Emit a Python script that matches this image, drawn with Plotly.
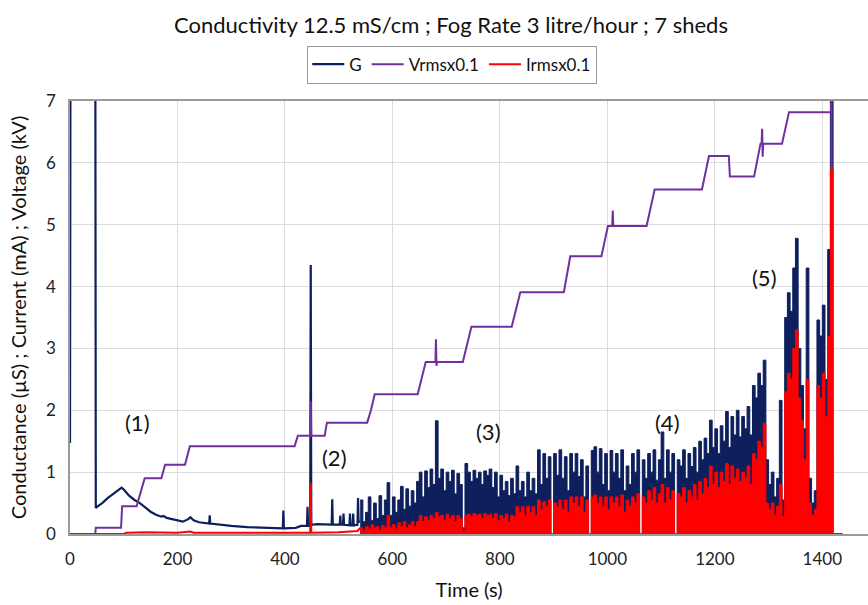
import numpy as np
import plotly.graph_objects as go

# ---------------- data ----------------
# Conductance G, early smooth part (time s, value uS)
g_early_t = [0, 1, 47, 48, 52, 60, 70, 80, 90, 96, 100, 110, 120, 130, 140, 150, 160, 170, 174, 180,
             190, 200, 210, 220, 224, 230, 240, 259, 260, 261, 280, 300, 330, 360, 396, 397, 398, 420,
             430, 441, 442, 443, 447, 448, 449, 460, 487, 488, 489, 502, 503, 504, 508, 509, 510, 520,
             521, 522, 526, 527, 528, 535, 536, 537, 540]
g_early_v = [1.47, 9.0, 9.0, 0.42, 0.45, 0.5, 0.58, 0.65, 0.72, 0.75, 0.72, 0.62, 0.55, 0.5, 0.43, 0.36,
             0.31, 0.28, 0.29, 0.26, 0.24, 0.22, 0.2, 0.24, 0.27, 0.22, 0.19, 0.17, 0.3, 0.17, 0.15, 0.13,
             0.11, 0.1, 0.09, 0.38, 0.09, 0.1, 0.13, 0.13, 0.44, 0.13, 0.13, 4.35, 0.15, 0.16, 0.15, 0.56,
             0.15, 0.15, 0.3, 0.15, 0.15, 0.33, 0.15, 0.14, 0.33, 0.14, 0.14, 0.33, 0.14, 0.15, 0.58, 0.2,
             0.2]

# Dense noisy part, sampled every 5 s from 540 s to 1420 s
dense_t = list(range(540, 1421, 5))
g_dense = [
    0.55, 0.2, 0.35, 0.6, 0.22, 0.5, 0.25, 0.62, 0.3, 0.55,
    0.83, 0.3, 0.6, 0.35, 0.55, 0.77, 0.4, 0.73, 0.45, 0.7,
    0.5, 0.85, 1.0, 0.6, 1.02, 0.75, 1.05, 0.8, 1.83, 0.9,
    1.05, 0.7, 1.0, 0.85, 1.03, 0.65, 0.98, 0.8, 0.1, 1.14,
    1.0, 0.85, 1.03, 0.9, 1.0, 0.8, 1.02, 0.95, 1.05, 0.75,
    1.0, 0.6, 0.95, 0.7, 0.85, 0.62, 0.9, 0.65, 1.1, 0.7,
    0.85, 0.6, 1.0, 0.7, 0.9, 0.65, 1.36, 0.8, 1.3, 0.9,
    1.25, 0.0, 1.3, 0.95, 1.36, 0.9, 1.25, 0.7, 1.3, 1.0,
    1.3, 0.93, 1.2, 0.6, 1.1, 0.0, 1.35, 1.41, 1.0, 1.38,
    0.8, 1.3, 0.7, 1.35, 1.0, 1.3, 0.9, 1.36, 0.7, 1.1,
    0.8, 1.3, 1.0, 1.36, 0.0, 1.2, 0.9, 1.3, 1.0, 1.36,
    0.87, 1.2, 1.65, 0.9, 1.36, 1.0, 1.3, 0.0, 1.2, 1.1,
    1.36, 0.9, 1.3, 1.09, 1.4, 1.0, 1.5, 1.2, 1.55, 1.3,
    1.84, 1.4, 1.7, 1.3, 1.75, 1.5, 1.98, 1.4, 1.9, 1.6,
    2.0, 1.57, 1.9, 1.7, 2.06, 1.6, 2.4, 2.2, 2.6, 2.4,
    2.81, 1.2, 0.8, 1.0, 0.6, 0.9, 2.16, 0.55, 3.5, 3.9,
    3.6, 4.3, 4.78, 3.0, 2.4, 1.7, 4.3, 0.9, 0.5, 0.7,
    3.46, 3.2, 3.7, 2.5, 4.6, 7.5, 0.0,
]
i_dense = [
    0.1, 0.05, 0.12, 0.08, 0.15, 0.1, 0.12, 0.06, 0.14, 0.1,
    0.3, 0.1, 0.15, 0.08, 0.18, 0.12, 0.2, 0.1, 0.15, 0.2,
    0.12, 0.2, 0.3, 0.2, 0.28, 0.22, 0.3, 0.25, 0.35, 0.28,
    0.3, 0.22, 0.32, 0.25, 0.3, 0.2, 0.3, 0.25, 0.05, 0.3,
    0.32, 0.28, 0.33, 0.3, 0.32, 0.25, 0.33, 0.3, 0.32, 0.25,
    0.33, 0.22, 0.3, 0.25, 0.32, 0.2, 0.3, 0.28, 0.44, 0.35,
    0.44, 0.3, 0.45, 0.35, 0.44, 0.3, 0.55, 0.4, 0.52, 0.45,
    0.55, 0.0, 0.5, 0.45, 0.55, 0.4, 0.55, 0.35, 0.6, 0.5,
    0.6, 0.45, 0.6, 0.35, 0.55, 0.0, 0.6, 0.63, 0.5, 0.6,
    0.45, 0.6, 0.4, 0.6, 0.5, 0.6, 0.45, 0.63, 0.35, 0.55,
    0.45, 0.6, 0.5, 0.65, 0.0, 0.6, 0.5, 0.7, 0.55, 0.75,
    0.5, 0.65, 0.8, 0.5, 0.75, 0.55, 0.7, 0.0, 0.65, 0.6,
    0.75, 0.5, 0.7, 0.6, 0.8, 0.55, 0.85, 0.65, 0.9, 0.75,
    1.1, 0.8, 1.0, 0.75, 1.0, 0.85, 1.14, 0.8, 1.1, 0.9,
    1.05, 0.85, 1.0, 0.9, 1.1, 0.8, 1.3, 1.2, 1.5, 1.4,
    1.79, 0.5, 0.4, 0.5, 0.3, 0.45, 0.8, 0.28, 2.3, 2.6,
    2.5, 3.0, 3.3, 2.2, 1.84, 1.2, 2.5, 0.5, 0.3, 0.4,
    2.4, 2.2, 2.6, 1.9, 3.2, 5.9, 0.0,
]

# Current, early quiet part
i_early_t = [0, 100, 105, 140, 200, 224, 230, 300, 440, 447, 448, 449, 500, 535, 540]
i_early_v = [0.0, 0.0, 0.02, 0.03, 0.02, 0.04, 0.02, 0.02, 0.02, 0.02, 0.82, 0.02, 0.03, 0.05, 0.1]
i_tail_t = [1420, 1438]
i_tail_v = [0.0, 0.0]

# Voltage x0.1 staircase
v_t = [0, 47, 48, 95, 97, 124, 139, 170, 177, 214, 223, 418, 424, 447, 448, 449, 474, 478, 553, 560,
       567, 647, 662, 680, 681, 682, 683, 731, 747, 822, 838, 919, 931, 989, 1001, 1009, 1010, 1011,
       1073, 1088, 1176, 1189, 1226, 1228, 1273, 1285, 1287, 1288, 1289, 1290, 1325, 1338, 1416,
       1417, 1419]
v_v = [0.0, 0.0, 0.1, 0.1, 0.45, 0.45, 0.9, 0.9, 1.12, 1.12, 1.42, 1.42, 1.59, 1.59, 2.14, 1.59, 1.59,
       1.80, 1.80, 2.0, 2.26, 2.26, 2.78, 2.78, 3.15, 2.72, 2.78, 2.78, 3.35, 3.35, 3.91, 3.91, 4.49,
       4.49, 4.98, 4.98, 5.23, 4.98, 4.98, 5.57, 5.57, 6.11, 6.11, 5.78, 5.78, 6.31, 6.31, 6.55, 6.1,
       6.31, 6.31, 6.82, 6.82, 7.0, 0.0]

x_ticks = [0, 200, 400, 600, 800, 1000, 1200, 1400]
y_ticks = [0, 1, 2, 3, 4, 5, 6, 7]

labels = ["(1)", "(2)", "(3)", "(4)", "(5)"]
label_x = [125, 493, 778, 1112, 1293]
label_y = [1.81, 1.24, 1.65, 1.81, 4.14]

# ---------------- figure ----------------
NAVY = "#0d1f5c"
PURPLE = "#7030A0"
RED = "#FF0000"
FONT = "Lato"

fig = go.Figure()
fig.add_trace(go.Scatter(x=g_early_t, y=g_early_v, mode="lines", name="G",
                         line=dict(color=NAVY, width=2.2), legendgroup="G"))
fig.add_trace(go.Scatter(x=dense_t, y=g_dense, mode="lines", name="G", showlegend=False,
                         line=dict(color=NAVY, width=1, shape="hv"), fill="tozeroy", fillcolor=NAVY,
                         legendgroup="G"))
fig.add_trace(go.Scatter(x=v_t, y=v_v, mode="lines", name="Vrmsx0.1",
                         line=dict(color=PURPLE, width=2)))
fig.add_trace(go.Scatter(x=i_early_t, y=i_early_v, mode="lines", name="Irmsx0.1",
                         line=dict(color=RED, width=2), legendgroup="I"))
fig.add_trace(go.Scatter(x=dense_t, y=i_dense, mode="lines", name="Irmsx0.1", showlegend=False,
                         line=dict(color=RED, width=1, shape="hv"), fill="tozeroy", fillcolor=RED,
                         legendgroup="I"))
fig.add_trace(go.Scatter(x=i_tail_t, y=i_tail_v, mode="lines", name="Irmsx0.1", showlegend=False,
                         line=dict(color=RED, width=2), legendgroup="I"))

for txt, ax_, ay_ in zip(labels, label_x, label_y):
    fig.add_annotation(x=ax_, y=ay_, text=txt, showarrow=False,
                       font=dict(family=FONT, size=22, color="#111111"))

fig.update_layout(
    width=868, height=605,
    margin=dict(l=70, r=0, t=101, b=71),
    paper_bgcolor="white", plot_bgcolor="white",
    font=dict(family=FONT, color="#222222"),
    title=dict(text="Conductivity 12.5 mS/cm ; Fog Rate 3 litre/hour ; 7 sheds",
               x=0.5196, xref="container", xanchor="center",
               y=1 - 25 / 605, yref="container", yanchor="middle",
               font=dict(family=FONT, size=22, color="#111111")),
    legend=dict(orientation="h", x=0.479, xanchor="center", y=1.128, yanchor="top",
                bordercolor="#9a9a9a", borderwidth=1, bgcolor="white",
                font=dict(family=FONT, size=17, color="#111111"),
                itemwidth=32, tracegroupgap=0),
    showlegend=True,
)
fig.update_xaxes(range=[0, 1485], tickvals=x_ticks, ticktext=[str(v) for v in x_ticks],
                 showgrid=True, gridcolor="#dcdcdc", gridwidth=1,
                 showline=True, linecolor="#9a9a9a", linewidth=1.5, mirror=True,
                 zeroline=False, ticks="", ticklabelstandoff=9,
                 tickfont=dict(family=FONT, size=17, color="#222222"),
                 title=dict(text="Time (s)", font=dict(family=FONT, size=20, color="#111111"),
                            standoff=15))
fig.update_yaxes(range=[0, 7], tickvals=y_ticks, ticktext=[str(v) for v in y_ticks],
                 showgrid=True, gridcolor="#dcdcdc", gridwidth=1,
                 showline=True, linecolor="#9a9a9a", linewidth=1.5, mirror=False,
                 zeroline=False, ticks="", ticklabelstandoff=9,
                 tickfont=dict(family=FONT, size=17, color="#222222"),
                 title=dict(text="Conductance (µS) ; Current (mA) ; Voltage (kV)",
                            font=dict(family=FONT, size=20, color="#111111"), standoff=14))

fig.write_html("out.html")
